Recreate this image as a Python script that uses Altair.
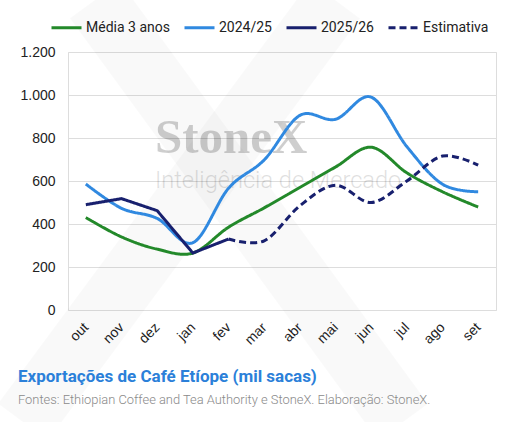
import altair as alt
import pandas as pd

# Months of the Ethiopian coffee year (Oct -> Sep)
meses = ["out", "nov", "dez", "jan", "fev", "mar", "abr", "mai", "jun", "jul", "ago", "set"]

# Exports, thousand bags
media_3_anos = [430, 340, 283, 265, 385, 475, 570, 665, 757, 638, 550, 479]
safra_2024_25 = [586, 473, 426, 313, 566, 698, 905, 887, 990, 760, 585, 550]
safra_2025_26 = [490, 518, 462, 265, 330]          # out..fev (realizado)
estimativa = [330, 322, 485, 580, 500, 600, 716, 674]  # fev..set

series = ["Média 3 anos", "2024/25", "2025/26", "Estimativa"]
cores = ["#23892a", "#3089e0", "#18206e", "#18206e"]
tracos = [[1, 0], [1, 0], [1, 0], [7, 4]]

titulo = "Exportações de Café Etíope (mil sacas)"
fonte = "Fontes: Ethiopian Coffee and Tea Authority e StoneX. Elaboração: StoneX."

rows = []
for m, v in zip(meses, media_3_anos):
    rows.append({"mes": m, "serie": "Média 3 anos", "valor": v})
for m, v in zip(meses, safra_2024_25):
    rows.append({"mes": m, "serie": "2024/25", "valor": v})
for m, v in zip(meses[:5], safra_2025_26):
    rows.append({"mes": m, "serie": "2025/26", "valor": v})
for m, v in zip(meses[4:], estimativa):
    rows.append({"mes": m, "serie": "Estimativa", "valor": v})
df = pd.DataFrame(rows)

W, H = 428, 258

x_enc = alt.X(
    "mes:N",
    sort=meses,
    scale=alt.Scale(type="point", padding=0.5),
    axis=alt.Axis(
        title=None, labelAngle=-45, labelAlign="right", labelBaseline="middle",
        labelFontSize=14, labelColor="#222222", labelPadding=15,
        domain=False, ticks=False, grid=False, labelFont="Liberation Sans",
    ),
)
y_enc = alt.Y(
    "valor:Q",
    scale=alt.Scale(domain=[0, 1200], nice=False),
    axis=alt.Axis(
        title=None, values=[0, 200, 400, 600, 800, 1000, 1200],
        labelExpr="replace(format(datum.value, ',d'), ',', '.')",
        labelFontSize=14, labelColor="#222222", labelPadding=13,
        labelFont="Liberation Sans",
        domain=False, ticks=False, gridColor="#dddddd", gridWidth=1,
    ),
)
legenda = alt.Legend(
    title=None, orient="none", direction="horizontal",
    legendX=-18, legendY=-41, padding=0,
    symbolType="stroke", symbolSize=900, symbolStrokeWidth=3,
    labelFontSize=14, labelColor="#222222", labelFont="Roboto",
    labelOffset=3, columnPadding=8,
)
color_enc = alt.Color(
    "serie:N", scale=alt.Scale(domain=series, range=cores), sort=series, legend=legenda
)
dash_enc = alt.StrokeDash(
    "serie:N", scale=alt.Scale(domain=series, range=tracos), sort=series, legend=legenda
)

base = alt.Chart(df).encode(x=x_enc, y=y_enc, color=color_enc, strokeDash=dash_enc, detail="serie:N")

suaves = base.transform_filter("datum.serie != '2025/26'").mark_line(
    interpolate="cardinal", strokeWidth=3
)
realizado = base.transform_filter("datum.serie == '2025/26'").mark_line(
    interpolate="linear", strokeWidth=3
)

# Faint brand "X" behind the plot
marca = alt.Chart(pd.DataFrame({"k": [0]}))
braco1 = marca.mark_rule(color="#000000", opacity=0.022, strokeWidth=62).encode(
    x=alt.value(27), y=alt.value(-52), x2=alt.value(335), y2=alt.value(370)
)
braco2 = marca.mark_rule(color="#000000", opacity=0.022, strokeWidth=62).encode(
    x=alt.value(267), y=alt.value(-52), x2=alt.value(-45), y2=alt.value(370)
)
stonex = marca.mark_text(
    text="StoneX", font="Liberation Serif", fontSize=49, fontWeight="bold",
    color="#000000", opacity=0.19, align="left", baseline="alphabetic",
).encode(x=alt.value(87), y=alt.value(101))
intel = marca.mark_text(
    text="Inteligência de Mercado", font="Roboto", fontWeight=300, fontSize=23.6,
    color="#000000", opacity=0.12, align="left", baseline="alphabetic",
).encode(x=alt.value(87), y=alt.value(136))

# Caption block under the chart
cap_titulo = marca.mark_text(
    text=titulo, font="Roboto", fontSize=17, fontWeight="bold", color="#2b80d9",
    align="left", baseline="alphabetic",
).encode(x=alt.value(-50), y=alt.value(330))
cap_fonte = marca.mark_text(
    text=fonte, font="Roboto", fontSize=12.9, fontWeight=300, color="#8a8a8a",
    align="left", baseline="alphabetic",
).encode(x=alt.value(-50), y=alt.value(352))

chart = alt.layer(braco1, braco2, stonex, intel, suaves, realizado, cap_titulo, cap_fonte).properties(
    width=W, height=H,
    autosize=alt.AutoSizeParams(type="none"),
    padding={"left": 68, "top": 52, "right": 23, "bottom": 112},
).configure_view(stroke=None).configure(background="white")

chart.save("out.html", embed_options={"renderer": "svg", "actions": False})
